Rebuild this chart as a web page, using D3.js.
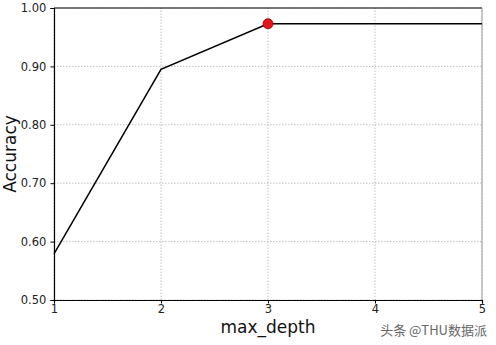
<!DOCTYPE html>
<html lang="en">
  <head>
    <meta charset="UTF-8" />
    <title>Accuracy vs max_depth</title>
    <style>
      body { margin: 0; background: #fff; }
      text { font-family: "DejaVu Sans", sans-serif; }
    </style>
  </head>
  <body>
    <div class="chart"></div>
    <script src="https://d3js.org/d3.v7.min.js"></script>
    <script>
      const width = 496;
      const height = 345;

      // 資料
      const depths = [1, 2, 3, 4, 5];
      const accuracy = [0.579, 0.895, 0.973, 0.973, 0.973];
      const bestDepth = 3;
      const yTicks = [0.5, 0.6, 0.7, 0.8, 0.9, 1.0];

      const margin = { top: 8, right: 14, bottom: 45, left: 54 };

      const svg = d3
        .select(".chart")
        .append("svg")
        .attr("width", width)
        .attr("height", height);

      const x = d3
        .scaleLinear()
        .domain([1, 5])
        .range([margin.left, width - margin.right]);

      const y = d3
        .scaleLinear()
        .domain([0.5, 1.0])
        .range([height - margin.bottom, margin.top]);

      // 格線
      const grid = svg.append("g").attr("stroke", "#b0b0b0").attr("stroke-width", 0.8)
        .attr("stroke-dasharray", "1.5,1.5");
      grid.selectAll(".gx")
        .data(depths)
        .join("line")
        .attr("x1", (d) => x(d))
        .attr("x2", (d) => x(d))
        .attr("y1", y(0.5))
        .attr("y2", y(1.0));
      grid.selectAll(".gy")
        .data(yTicks)
        .join("line")
        .attr("x1", x(1))
        .attr("x2", x(5))
        .attr("y1", (d) => y(d))
        .attr("y2", (d) => y(d));

      // 座標軸
      const xAxis = svg
        .append("g")
        .attr("transform", `translate(0,${y(0.5)})`)
        .call(d3.axisBottom(x).tickValues(depths).tickFormat(d3.format("d")).tickSizeOuter(0).tickSize(3.5));

      const yAxis = svg
        .append("g")
        .attr("transform", `translate(${x(1)},0)`)
        .call(d3.axisLeft(y).tickValues(yTicks).tickFormat(d3.format(".2f")).tickSizeOuter(0).tickSize(3.5));

      [xAxis, yAxis].forEach((a) => {
        a.selectAll("text").attr("font-size", 11.5).attr("fill", "#222");
        a.select(".domain").attr("stroke", "#000").attr("stroke-width", 1.2);
        a.selectAll(".tick line").attr("stroke", "#000");
      });
      xAxis.selectAll("text").attr("dy", "0.6em");
      yAxis.selectAll("text").attr("dx", "-0.1em");

      // 上框與右框
      svg.append("line")
        .attr("x1", x(1)).attr("x2", x(5))
        .attr("y1", y(1.0)).attr("y2", y(1.0))
        .attr("stroke", "#000").attr("stroke-width", 1.2);
      svg.append("line")
        .attr("x1", x(5)).attr("x2", x(5))
        .attr("y1", y(1.0)).attr("y2", y(0.5))
        .attr("stroke", "#aaa").attr("stroke-width", 1.2);

      // 折線
      const line = d3
        .line()
        .x((d, i) => x(depths[i]))
        .y((d) => y(d));

      svg.append("path")
        .datum(accuracy)
        .attr("fill", "none")
        .attr("stroke", "#000")
        .attr("stroke-width", 1.5)
        .attr("d", line);

      // 最佳點
      svg.append("circle")
        .attr("cx", x(bestDepth))
        .attr("cy", y(accuracy[depths.indexOf(bestDepth)]))
        .attr("r", 5)
        .attr("fill", "#e8141b")
        .attr("stroke", "#8b0000")
        .attr("stroke-width", 0.8);

      // 標題
      svg.append("text")
        .attr("x", (x(1) + x(5)) / 2)
        .attr("y", 333)
        .attr("text-anchor", "middle")
        .attr("font-size", 17)
        .attr("fill", "#111")
        .text("max_depth");

      svg.append("text")
        .attr("transform", `translate(16,${(y(0.5) + y(1.0)) / 2}) rotate(-90)`)
        .attr("text-anchor", "middle")
        .attr("font-size", 17)
        .attr("fill", "#111")
        .text("Accuracy");

      // 浮水印
      svg.append("text")
        .attr("x", 487)
        .attr("y", 335)
        .attr("text-anchor", "end")
        .attr("font-size", 13)
        .attr("fill", "#666")
        .style("font-family", "'Noto Sans CJK SC', sans-serif")
        .text("头条 @THU数据派");
    </script>
  </body>
</html>
